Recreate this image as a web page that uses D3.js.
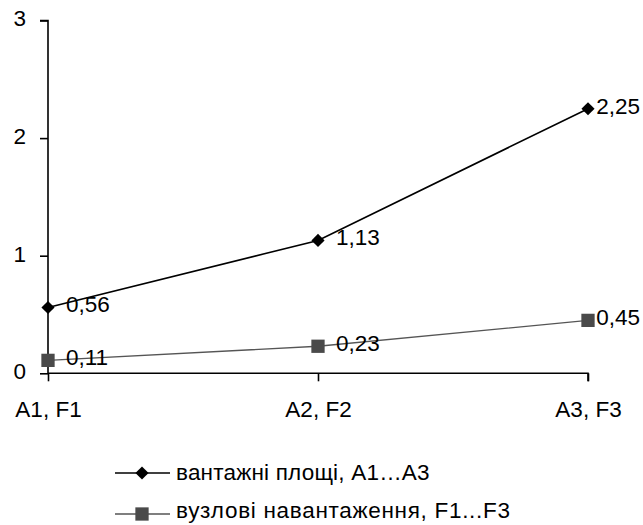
<!DOCTYPE html>
<html>
<head>
<meta charset="utf-8">
<script src="https://cdn.jsdelivr.net/npm/d3@7"></script>
<style>
  html, body { margin: 0; padding: 0; background: #fff; }
  svg { display: block; font-family: "Liberation Sans", Arial, sans-serif; }
</style>
</head>
<body>
<svg id="chart" width="643" height="525"></svg>
<script>
// Categories along the x axis
const categories = ["A1, F1", "A2, F2", "A3, F3"];
// Series values
const areaLoads = [0.56, 1.13, 2.25];
const nodeLoads = [0.11, 0.23, 0.45];
// Series names for the legend
const seriesNames = ["вантажні площі, А1…А3", "вузлові навантаження, F1...F3"];
// Y axis ticks
const yTicks = [0, 1, 2, 3];

const fmt = v => String(v).replace(".", ",");

const svg = d3.select("#chart");
const fontSize = 22.5;

const x = d3.scalePoint().domain(categories).range([48, 588]);
const y = d3.scaleLinear().domain([0, 3]).range([373.3, 20.5]);

// Y axis
const yAxis = svg.append("g")
  .attr("transform", "translate(48,0)")
  .call(d3.axisLeft(y).tickValues(yTicks).tickSize(8).tickPadding(14).tickFormat(d => d));
// X axis
const xAxis = svg.append("g")
  .attr("transform", `translate(0,${y(0)})`)
  .call(d3.axisBottom(x).tickSize(8).tickPadding(20));

[yAxis, xAxis].forEach(g => {
  g.select(".domain").attr("stroke", "#000").attr("stroke-width", 1.6);
  g.selectAll(".tick line").attr("stroke", "#000").attr("stroke-width", 1.6);
  g.selectAll("text").attr("font-size", fontSize).attr("fill", "#000")
    .attr("font-family", "'Liberation Sans', Arial, sans-serif");
});
yAxis.selectAll("text").attr("dy", "0.24em");
// axis lines run only between the first and last tick
yAxis.select(".domain").attr("d", `M-8,${y(3)}H0V${y(0)}`);
xAxis.select(".domain").attr("d", `M${x(categories[0])},0H${x(categories[2])}V8`);

const series = [
  { name: seriesNames[0], values: areaLoads, color: "#000", fill: "#000", marker: "diamond", width: 1.6, spacing: 0.2 },
  { name: seriesNames[1], values: nodeLoads, color: "#555", fill: "#4a4a4a", marker: "square", width: 1.3, spacing: 0.7 }
];

const line = d3.line().x((d, i) => x(categories[i])).y(d => y(d));
const symbolFor = m => m === "diamond"
  ? d3.symbol().type(d3.symbolDiamond2).size(110)
  : d3.symbol().type(d3.symbolSquare2).size(225);

series.forEach(s => {
  svg.append("path")
    .datum(s.values)
    .attr("fill", "none")
    .attr("stroke", s.color)
    .attr("stroke-width", s.width)
    .attr("d", line);
  svg.selectAll(null).data(s.values).enter().append("path")
    .attr("d", symbolFor(s.marker))
    .attr("transform", (d, i) => `translate(${x(categories[i])},${y(d)})`)
    .attr("fill", s.fill);
  // value labels to the right of each point, kept inside the chart
  svg.selectAll(null).data(s.values).enter().append("text")
    .attr("font-size", fontSize)
    .attr("fill", "#000")
    .attr("y", d => y(d) + 5)
    .text(d => fmt(d))
    .attr("x", function (d, i) {
      const w = this.getComputedTextLength();
      return Math.min(x(categories[i]) + 18, 640 - w);
    });
});

// Legend
const legend = svg.append("g");
const legendY = [473, 514];
series.forEach((s, i) => {
  const ly = legendY[i];
  legend.append("line")
    .attr("x1", 115).attr("x2", 170).attr("y1", ly).attr("y2", ly)
    .attr("stroke", s.color).attr("stroke-width", s.width);
  legend.append("path")
    .attr("d", symbolFor(s.marker))
    .attr("transform", `translate(142,${ly})`)
    .attr("fill", s.fill);
  legend.append("text")
    .attr("x", 176).attr("y", ly + 7 - i * 3)
    .attr("font-size", fontSize)
    .attr("letter-spacing", s.spacing)
    .attr("fill", "#000")
    .text(s.name);
});
</script>
</body>
</html>
